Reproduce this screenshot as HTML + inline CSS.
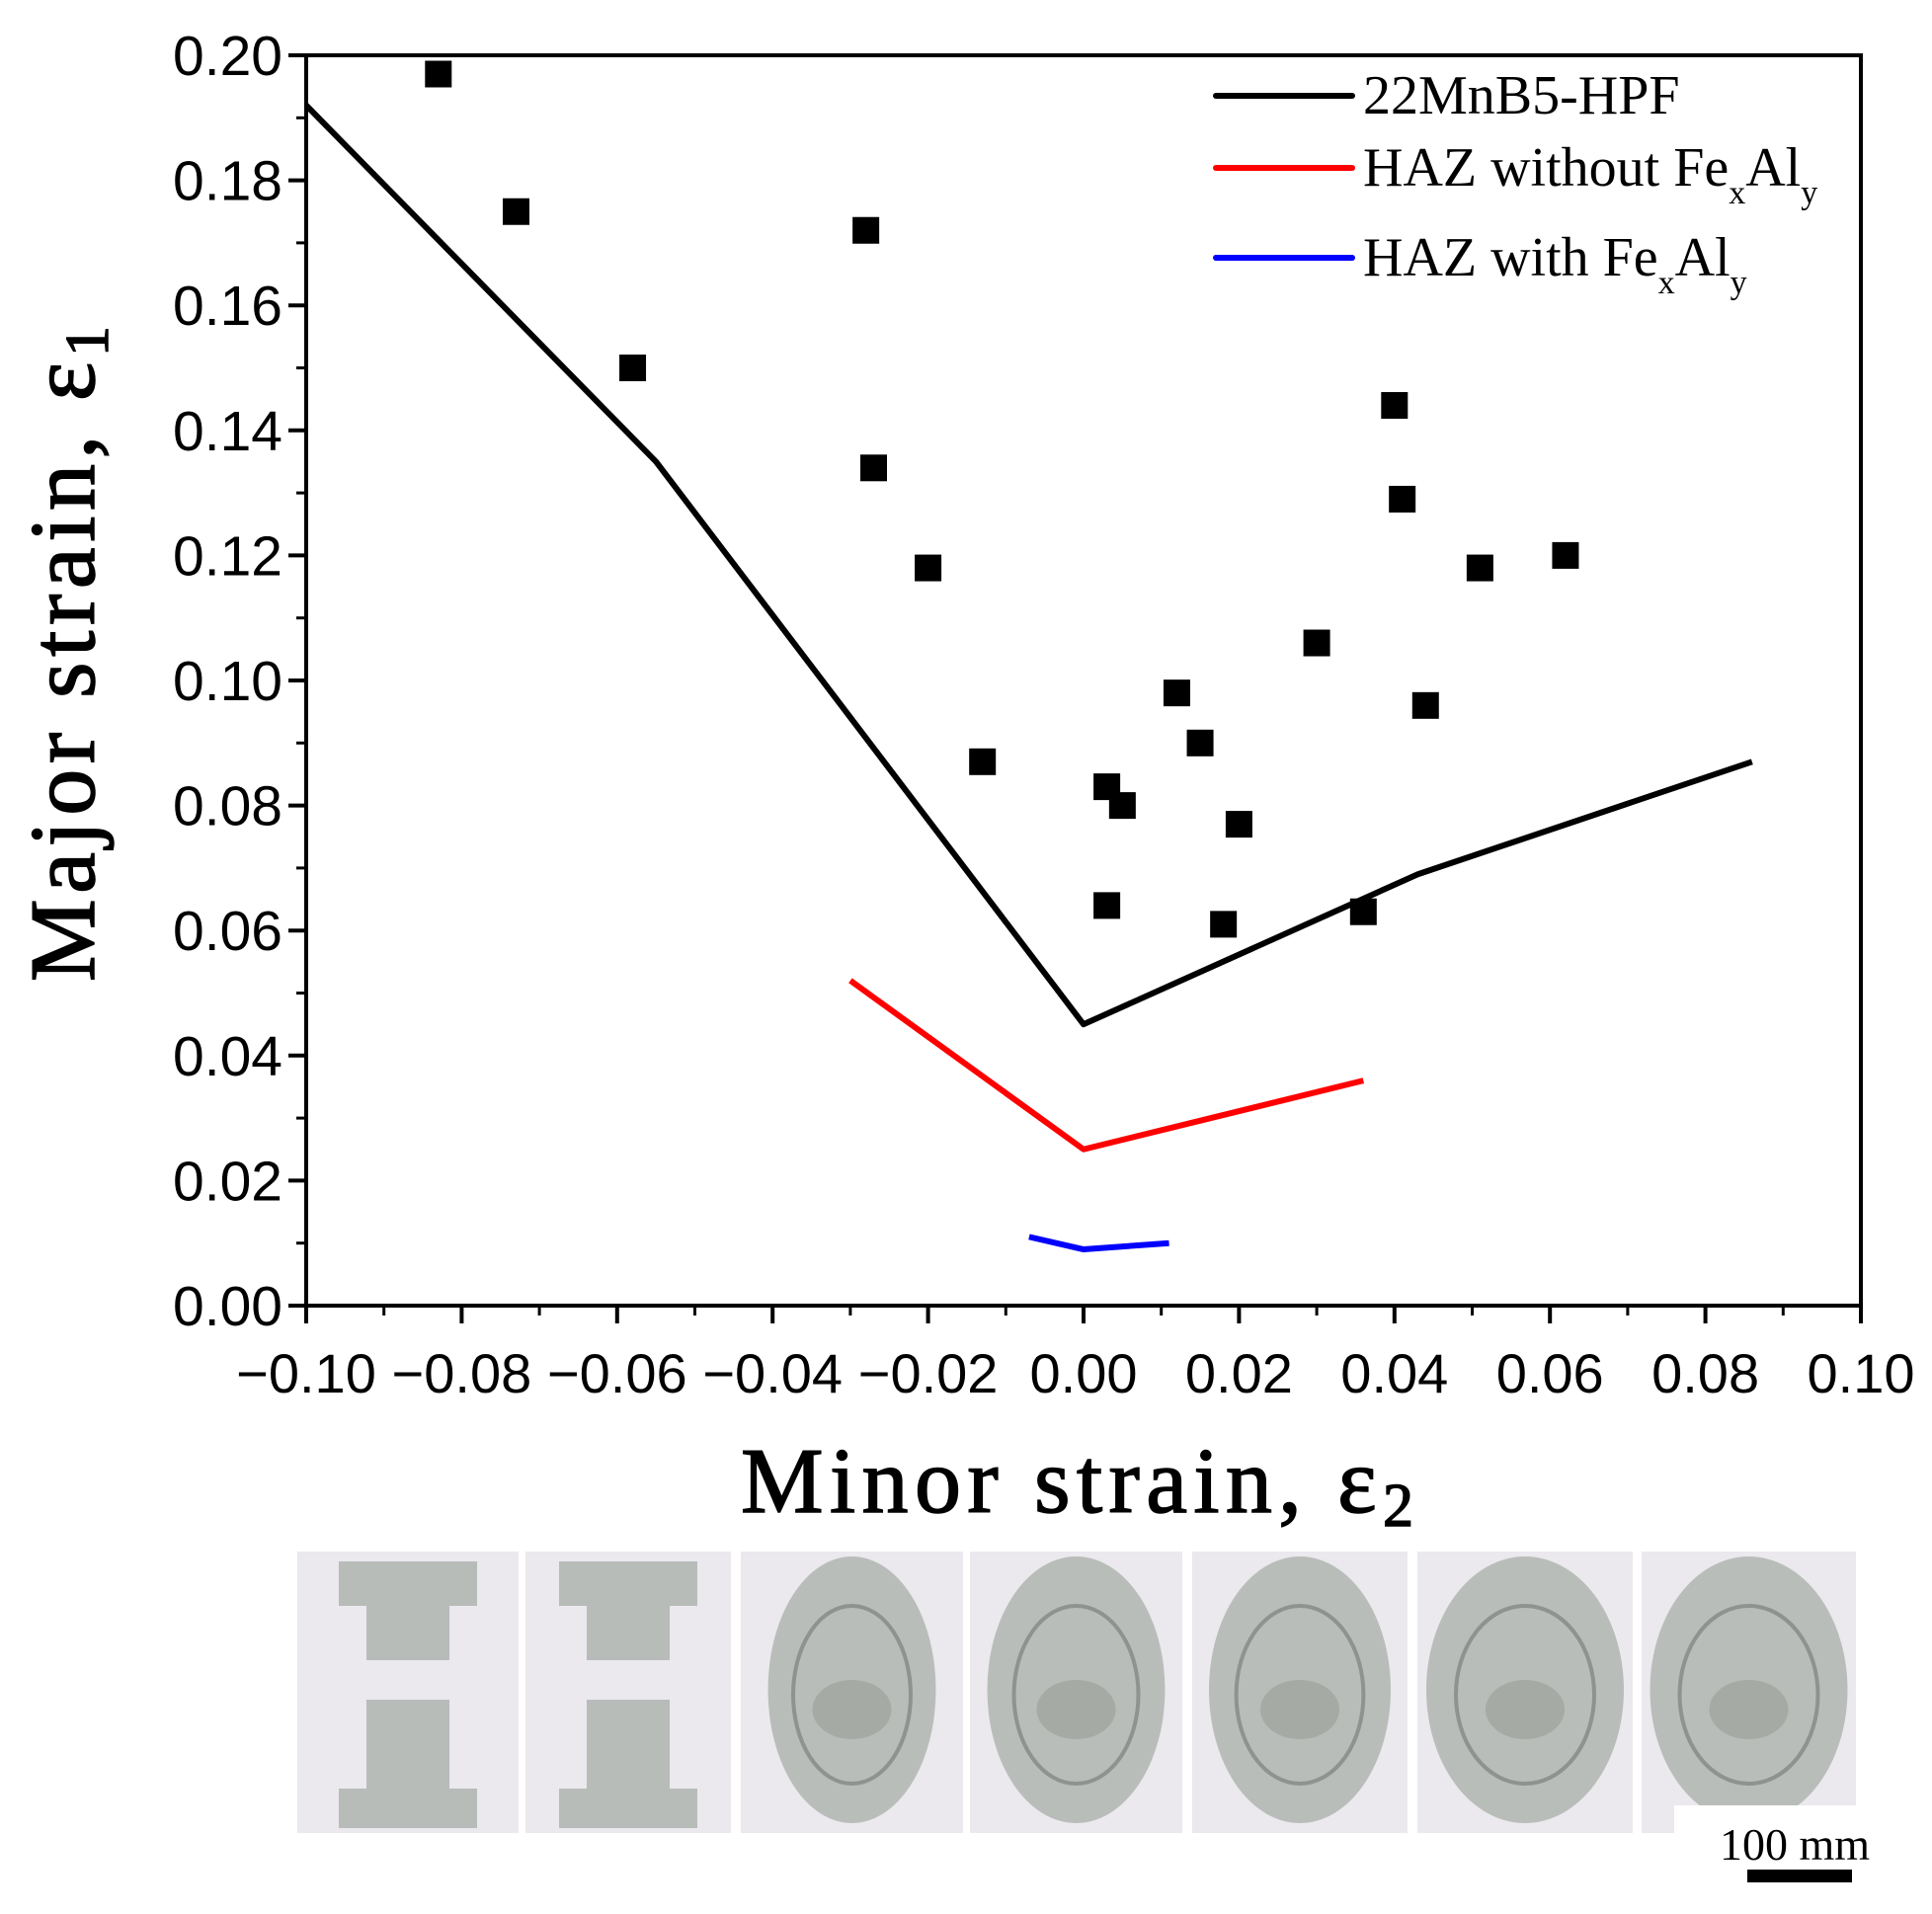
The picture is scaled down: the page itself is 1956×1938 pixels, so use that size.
<!DOCTYPE html>
<html><head><meta charset="utf-8"><style>
html,body{margin:0;padding:0;background:#fff;}
svg{display:block;}
</style></head><body>
<svg id="chart" width="1956" height="1938" viewBox="0 0 1956 1938" xmlns="http://www.w3.org/2000/svg">
<g id="axes"></g>
<g id="series"></g>
<text transform="translate(95,994) rotate(-90)" text-anchor="start" font-family="Liberation Serif, serif" font-size="94" stroke="#000" stroke-width="1.5" textLength="664" lengthAdjust="spacing">Major strain, ε<tspan font-size="62" dy="14">1</tspan></text>
<text x="750" y="1531" text-anchor="start" font-family="Liberation Serif, serif" font-size="94" stroke="#000" stroke-width="1.5" textLength="681" lengthAdjust="spacing">Minor strain, ε<tspan font-size="62" dy="14">2</tspan></text>
<g font-family="Liberation Serif, serif" font-size="56">
 <g><line x1="1231" y1="97" x2="1369" y2="97" stroke="#000" stroke-width="6" stroke-linecap="round"/><text x="1380" y="115">22MnB5-HPF</text></g>
 <g><line x1="1231" y1="170" x2="1369" y2="170" stroke="#f00" stroke-width="6" stroke-linecap="round"/><text x="1380" y="188">HAZ without Fe<tspan font-size="34" dy="18">x</tspan><tspan dy="-18">Al</tspan><tspan font-size="34" dy="18">y</tspan></text></g>
 <g><line x1="1231" y1="261" x2="1369" y2="261" stroke="#00f" stroke-width="6" stroke-linecap="round"/><text x="1380" y="279">HAZ with Fe<tspan font-size="34" dy="18">x</tspan><tspan dy="-18">Al</tspan><tspan font-size="34" dy="18">y</tspan></text></g>
</g>
<g id="photos"></g>
<text x="1741" y="1883" font-family="Liberation Serif, serif" font-size="46">100 mm</text>
<rect x="1769" y="1893" width="106" height="13" fill="#000"/>
</svg>
<script>
const xTicks = [-0.10,-0.08,-0.06,-0.04,-0.02,0.00,0.02,0.04,0.06,0.08,0.10];
const xTickLabels = ["\u22120.10","\u22120.08","\u22120.06","\u22120.04","\u22120.02","0.00","0.02","0.04","0.06","0.08","0.10"];
const yTicks = [0.00,0.02,0.04,0.06,0.08,0.10,0.12,0.14,0.16,0.18,0.20];
const yTickLabels = ["0.00","0.02","0.04","0.06","0.08","0.10","0.12","0.14","0.16","0.18","0.20"];
const blackX = [-0.10,-0.055,0.0,0.043,0.086];
const blackY = [0.192,0.135,0.045,0.069,0.087];
const redX = [-0.030,0.0,0.036];
const redY = [0.052,0.025,0.036];
const blueX = [-0.007,0.0,0.011];
const blueY = [0.011,0.009,0.010];
const ptX = [-0.083,-0.073,-0.058,-0.028,-0.027,-0.020,-0.013,0.003,0.005,0.003,0.012,0.015,0.020,0.018,0.030,0.036,0.040,0.041,0.044,0.051,0.062];
const ptY = [0.197,0.175,0.150,0.172,0.134,0.118,0.087,0.083,0.080,0.064,0.098,0.090,0.077,0.061,0.106,0.063,0.144,0.129,0.096,0.118,0.120];

const NS="http://www.w3.org/2000/svg";
const L=310,R=1884,T=56,B=1322;
const xs=v=>L+(v+0.10)/0.20*(R-L);
const ys=v=>B-v/0.20*(B-T);
function mk(tag,attrs,parent){const e=document.createElementNS(NS,tag);for(const k in attrs)e.setAttribute(k,attrs[k]);parent.appendChild(e);return e;}
const ax=document.getElementById('axes');
let fr=mk('rect',{x:L,y:T,width:R-L,height:B-T,fill:'none',stroke:'#000','stroke-width':4},ax);


xTicks.forEach((v,i)=>{
 let t=mk('line',{x1:xs(v),x2:xs(v),y1:B,y2:B+18,stroke:'#000','stroke-width':4},ax);
 
 
 if(i<xTicks.length-1){let m=mk('line',{x1:xs(v+0.01),x2:xs(v+0.01),y1:B,y2:B+10,stroke:'#000','stroke-width':3},ax);
 
 }
 let tx=mk('text',{x:xs(v),y:1410,'text-anchor':'middle','font-family':'Liberation Sans, sans-serif','font-size':56},ax);
 tx.textContent=xTickLabels[i];
 
 
});
yTicks.forEach((v,i)=>{
 let t=mk('line',{x1:L-18,x2:L,y1:ys(v),y2:ys(v),stroke:'#000','stroke-width':4},ax);
 
 
 if(i<yTicks.length-1){let m=mk('line',{x1:L-10,x2:L,y1:ys(v+0.01),y2:ys(v+0.01),stroke:'#000','stroke-width':3},ax);
 
 }
 let tx=mk('text',{x:L-24,y:ys(v)+20,'text-anchor':'end','font-family':'Liberation Sans, sans-serif','font-size':57},ax);
 tx.textContent=yTickLabels[i];
 
 
});
const sg=document.getElementById('series');
function line(X,Y,c,name){
 const p=mk('polyline',{points:X.map((x,i)=>xs(x)+','+ys(Y[i])).join(' '),fill:'none',stroke:c,'stroke-width':6,'stroke-linejoin':'round'},sg);
 
 
}
line(blackX,blackY,'#000','line-22mnb5-hpf');
line(redX,redY,'#f00','line-haz-without-fexaly');
line(blueX,blueY,'#00f','line-haz-with-fexaly');
ptX.forEach((x,i)=>{
 const r=mk('rect',{x:xs(x)-13.5,y:ys(ptY[i])-13.5,width:27,height:27,fill:'#000'},sg);
 
 
});
const ph=document.getElementById('photos');
const panels=[[301,224,0],[532,208,0],[750,225,1],[982,215,2],[1207,218,3],[1435,218,4],[1662,217,5]];
panels.forEach(([x,w,k])=>{
 const g=mk('g',{},ph);
 
 
 const y=1571,h=285;
 mk('rect',{x:x,y:y,width:w,height:h,fill:'#ebe8ee'},g);
 const cx=x+w/2;
 if(k===0){
  mk('rect',{x:cx-42,y:y+10,width:84,height:100,fill:'#b7bcb8'},g);
  mk('rect',{x:cx-42,y:y+150,width:84,height:125,fill:'#b7bcb8'},g);
  mk('rect',{x:cx-70,y:y+240,width:140,height:40,fill:'#b7bcb8'},g);
  mk('rect',{x:cx-70,y:y+10,width:140,height:45,fill:'#b7bcb8'},g);
 } else {
  const rw=[0,85,90,92,100,100][k];
  mk('ellipse',{cx:cx,cy:y+140,rx:rw,ry:135,fill:'#b9bdb9'},g);
  mk('ellipse',{cx:cx,cy:y+145,rx:rw*0.7,ry:90,fill:'none',stroke:'#8e938f','stroke-width':4},g);
  mk('ellipse',{cx:cx,cy:y+160,rx:40,ry:30,fill:'#9a9d98',opacity:0.6},g);
 }
});
const wm=mk('rect',{x:1695,y:1828,width:184,height:30,fill:'#fff'},ph);


</script>
</body></html>
